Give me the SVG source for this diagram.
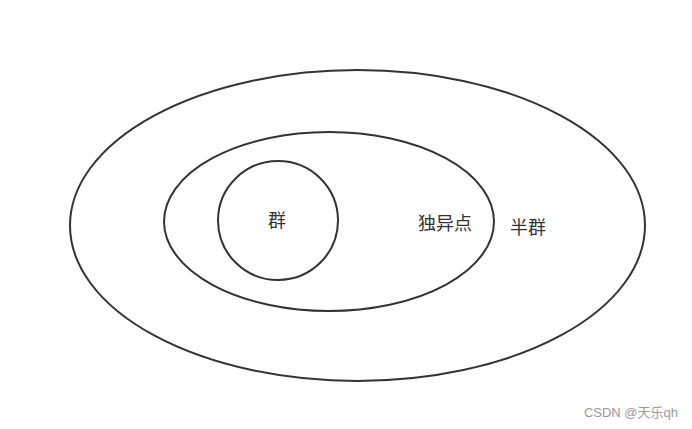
<svg xmlns="http://www.w3.org/2000/svg" width="692" height="429" viewBox="0 0 692 429">
<style>
.shape{fill:none;stroke:#333333;stroke-width:2}
.lbl{font-family:"Liberation Sans","Noto Sans CJK SC",sans-serif;font-size:18px;fill:#333333;text-anchor:middle;dominant-baseline:central}
.wm{font-family:"Liberation Sans","Noto Sans CJK SC",sans-serif;font-size:13px;fill:#999999;text-anchor:end;dominant-baseline:central}
</style>
<rect width="692" height="429" fill="#ffffff"/>
<g id="semigroup">
<ellipse class="shape" cx="357.5" cy="225.5" rx="287.5" ry="155.5"/>
<text class="lbl" x="528" y="228">半群</text>
</g>
<g id="monoid">
<ellipse class="shape" cx="329" cy="221.5" rx="165" ry="89.5"/>
<text class="lbl" x="445" y="224">独异点</text>
</g>
<g id="group">
<ellipse class="shape" cx="278" cy="220.5" rx="60" ry="59.5"/>
<text class="lbl" x="277" y="221">群</text>
</g>
<g id="connectors"/>
<text class="wm" x="678" y="412">CSDN @天乐qh</text>
</svg>
